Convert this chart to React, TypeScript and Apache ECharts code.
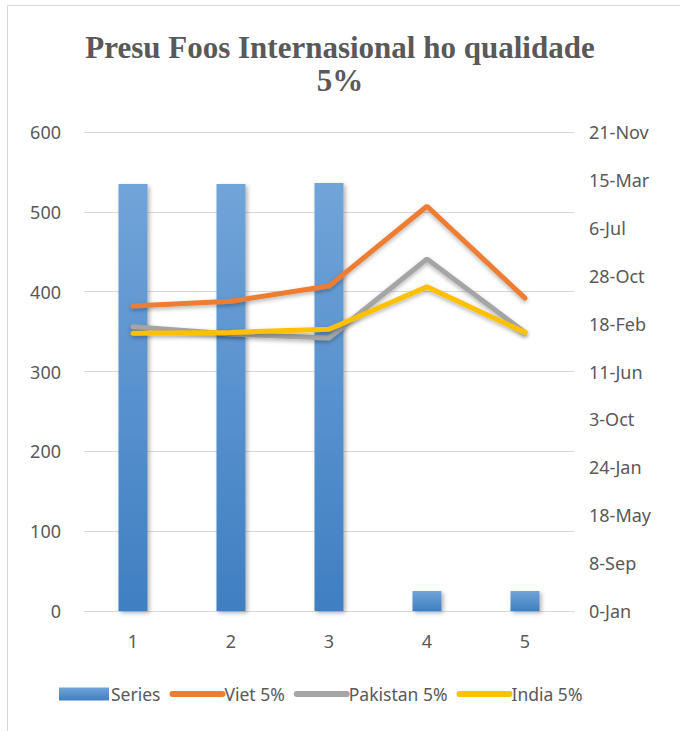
import React, { useEffect, useRef } from "react";
import * as echarts from "echarts";

const categories = ["1", "2", "3", "4", "5"];
const seriesBars = [535, 535, 536, 25, 25];
const viet = [382, 388, 407, 507, 392];
const pakistan = [356, 347, 342, 441, 349];
const india = [348, 349, 353, 406, 349];
const rightLabels = ["0-Jan", "8-Sep", "18-May", "24-Jan", "3-Oct", "11-Jun", "18-Feb", "28-Oct", "6-Jul", "15-Mar", "21-Nov"];

const FONT = "'Noto Sans', 'Open Sans', sans-serif";
const TXT = "#595959";

export default function App() {
  const ref = useRef<HTMLDivElement>(null);
  useEffect(() => {
    document.body.style.margin = "0";
    const chart = echarts.init(ref.current!, undefined, { renderer: "svg" });
    const lineSeries = (name: string, data: number[], color: string) => ({
      name,
      type: "line",
      data,
      yAxisIndex: 0,
      symbol: "none",
      lineStyle: { color, width: 5, cap: "round", shadowColor: "rgba(0,0,0,0.3)", shadowBlur: 4, shadowOffsetY: 2 },
      itemStyle: { color },
      z: 3,
    });
    const legendLine = (name: string, color: string) => ({
      name,
      itemStyle: { color, opacity: 0 },
      lineStyle: { color, width: 6, cap: "round", shadowBlur: 0, opacity: 1 },
    });
    chart.setOption({
      animation: false,
      backgroundColor: "#fff",
      graphic: [
        { type: "rect", shape: { x: 7.5, y: 5.5, width: 700, height: 740 }, style: { fill: "none", stroke: "#d9d9d9", lineWidth: 1 }, silent: true },
      ],
      title: {
        text: "Presu Foos Internasional ho qualidade\n5%",
        left: "center",
        top: 26,
        textStyle: { fontFamily: "'Liberation Serif', 'DejaVu Serif', serif", fontWeight: "bold", fontSize: 31, color: TXT, lineHeight: 33 },
      },
      legend: {
        bottom: 23,
        left: 54,
        itemGap: 9,
        itemWidth: 50,
        itemHeight: 13,
        textStyle: { fontFamily: FONT, fontSize: 17.5, color: TXT, padding: [0, 0, 0, -3] },
        data: [
          { name: "Series", icon: "rect" },
          legendLine("Viet 5%", "#ed7d31"),
          legendLine("Pakistan 5%", "#a5a5a5"),
          legendLine("India 5%", "#ffc000"),
        ],
      },
      grid: { left: 84, right: 106, top: 132, bottom: 120 },
      xAxis: {
        type: "category",
        data: categories,
        axisLine: { lineStyle: { color: "#d9d9d9", width: 1 } },
        axisTick: { show: false },
        axisLabel: { fontFamily: FONT, fontSize: 18, color: TXT, margin: 21 },
      },
      yAxis: [
        {
          type: "value",
          min: 0,
          max: 600,
          interval: 100,
          axisLine: { show: false },
          axisTick: { show: false },
          splitLine: { lineStyle: { color: "#d9d9d9", width: 1 } },
          axisLabel: { fontFamily: FONT, fontSize: 18, color: TXT, margin: 23 },
        },
        {
          type: "value",
          min: 0,
          max: 10,
          interval: 1,
          position: "right",
          axisLine: { show: false },
          axisTick: { show: false },
          splitLine: { show: false },
          axisLabel: {
            fontFamily: FONT,
            fontSize: 18,
            color: TXT,
            margin: 15,
            formatter: (v: number) => rightLabels[Math.round(v)] ?? "",
          },
        },
      ],
      series: [
        {
          name: "Series",
          type: "bar",
          data: seriesBars,
          barWidth: 29,
          itemStyle: {
            color: new echarts.graphic.LinearGradient(0, 0, 0, 1, [
              { offset: 0, color: "#71a4d9" },
              { offset: 1, color: "#3f7fc2" },
            ]),
            shadowColor: "rgba(0,0,0,0.3)",
            shadowBlur: 4,
            shadowOffsetX: 2,
            shadowOffsetY: 2,
          },
          z: 2,
        },
        lineSeries("Viet 5%", viet, "#ed7d31"),
        lineSeries("Pakistan 5%", pakistan, "#a5a5a5"),
        lineSeries("India 5%", india, "#ffc000"),
      ],
    });
    return () => chart.dispose();
  }, []);
  return <div ref={ref} style={{ width: 680, height: 731 }} />;
}
